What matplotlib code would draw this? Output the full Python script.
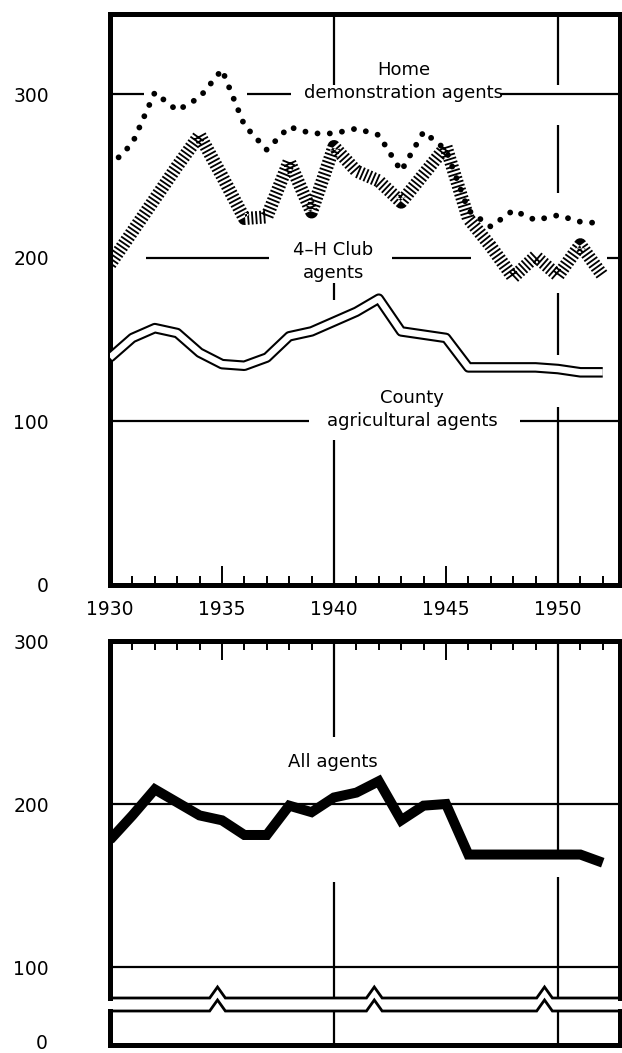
import matplotlib
matplotlib.use("Agg")
import matplotlib.pyplot as plt
import matplotlib.patheffects as pe
import matplotlib.transforms as mtransforms
from matplotlib.ticker import FixedLocator, MultipleLocator

# Yearly figures, 1930-1952
years = list(range(1930, 1953))
home_demo = [256, 270, 301, 290, 298, 315, 281, 266, 280, 276, 276, 279,
             275, 253, 277, 266, 229, 219, 229, 223, 226, 222, 221]
club_4h = [196, 216, 236, 256, 275, 250, 224, 225, 259, 228, 268, 253,
           247, 234, 251, 268, 224, 207, 188, 201, 189, 208, 189]
county = [139, 151, 157, 154, 142, 135, 134, 139, 152, 155, 161, 167,
          175, 155, 153, 151, 133, 133, 133, 133, 132, 130, 130]
all_agents = [178, 193, 209, 201, 193, 190, 181, 181, 199, 195, 204, 207,
              214, 190, 199, 200, 169, 169, 169, 169, 169, 169, 164]

year_labels = [1930, 1935, 1940, 1945, 1950]
top_yticks = [0, 100, 200, 300]
bottom_yticks = [100, 200, 300]

W, H = 622, 1053
XMIN, XMAX = 1930, 1952.77
FONT = "DejaVu Sans"
plt.rcParams["font.family"] = FONT

fig = plt.figure(figsize=(W / 100, H / 100), dpi=100)
fig.patch.set_facecolor("white")


def axes_px(x0, y0, x1, y1):
    return fig.add_axes([x0 / W, 1 - y1 / H, (x1 - x0) / W, (y1 - y0) / H])


ax_top = axes_px(110, 14, 620, 585)
ax_bot = axes_px(110, 641, 620, 998)
ax_strip = axes_px(110, 1011, 620, 1045)

GRID_LW = 1.6
SPINE_LW = 3.6


def hgrid(ax, y, spans):
    for a, b in spans:
        ax.hlines(y, a, b, color="black", lw=GRID_LW, zorder=1)


def vgrid(ax, x, spans):
    for a, b in spans:
        ax.vlines(x, a, b, color="black", lw=GRID_LW, zorder=1)


# ---------------- upper panel: agents by type ----------------
ax = ax_top
ax.set_xlim(XMIN, XMAX)
ax.set_ylim(0, 349)
for s in ax.spines.values():
    s.set_linewidth(SPINE_LW)

hgrid(ax, 300, [(1930, 1931.5), (1936.1, 1938.1), (1947.4, XMAX)])
hgrid(ax, 200, [(1931.6, 1937.1), (1942.6, 1946.1), (1952.2, XMAX)])
hgrid(ax, 100, [(1930, 1938.9), (1948.3, XMAX)])
vgrid(ax, 1940, [(305.6, 349), (174.2, 184.6), (0, 88.6)])
vgrid(ax, 1950, [(305.6, 349), (239.6, 281.2), (140.6, 178.5), (0, 108.8)])

# County agricultural agents: double line
ax.plot(years, county, color="white", lw=4.6, solid_joinstyle="round",
        solid_capstyle="butt", zorder=3,
        path_effects=[pe.Stroke(linewidth=7.6, foreground="black"), pe.Normal()])
# 4-H Club agents: hatched band
ax.plot(years, club_4h, color="black", lw=9.4, linestyle=(0, (0.14, 0.17)),
        dash_capstyle="butt", solid_joinstyle="miter", zorder=3)
# Home demonstration agents: dotted
ax.plot(years, home_demo, color="black", lw=4.2, linestyle=(0, (0.01, 2.1)),
        dash_capstyle="round", zorder=4)

ax.xaxis.set_major_locator(FixedLocator(year_labels))
ax.xaxis.set_minor_locator(MultipleLocator(1))
ax.tick_params(axis="x", which="major", direction="in", length=14, width=1.4,
               pad=11, labelsize=13.5, top=False)
ax.tick_params(axis="x", which="minor", direction="in", length=6.5, width=1.4,
               top=False)
ax.set_yticks(top_yticks)
ax.tick_params(axis="y", length=0, pad=44, labelsize=13.5)

lab = dict(ha="center", va="center", fontsize=13, color="black", zorder=5)
ax.text(1943.1, 314.8, "Home", **lab)
ax.text(1943.1, 300.7, "demonstration agents", **lab)
ax.text(1939.96, 204.8, "4\u2013H Club", **lab)
ax.text(1939.96, 190.7, "agents", **lab)
ax.text(1943.5, 114.3, "County", **lab)
ax.text(1943.5, 100.2, "agricultural agents", **lab)

# ---------------- lower panel: all agents ----------------
ax = ax_bot
ax.set_xlim(XMIN, XMAX)
ax.set_ylim(81, 300)
for name, s in ax.spines.items():
    s.set_linewidth(SPINE_LW)
ax.spines["bottom"].set_visible(False)

hgrid(ax, 200, [(1930, XMAX)])
hgrid(ax, 100, [(1930, XMAX)])
vgrid(ax, 1940, [(241, 300), (81, 152)])
vgrid(ax, 1950, [(172, 300), (81, 155)])

ax.plot(years, all_agents, color="black", lw=7.2, solid_joinstyle="miter",
        solid_capstyle="butt", zorder=3)
ax.text(1939.96, 225.8, "All agents", **lab)

ax.xaxis.tick_top()
ax.xaxis.set_major_locator(FixedLocator(year_labels))
ax.xaxis.set_minor_locator(MultipleLocator(1))
ax.tick_params(axis="x", which="major", direction="in", length=14, width=1.4,
               labeltop=False, labelbottom=False, bottom=False)
ax.tick_params(axis="x", which="minor", direction="in", length=6.5, width=1.4,
               bottom=False)
ax.set_yticks(bottom_yticks)
ax.tick_params(axis="y", length=0, pad=44, labelsize=13.5)

# broken-axis strip near zero
ax_s = ax_strip
ax_s.set_xlim(XMIN, XMAX)
ax_s.set_ylim(0, 1)
ax_s.set_xticks([])
ax_s.set_yticks([])
for name, s in ax_s.spines.items():
    s.set_linewidth(SPINE_LW)
ax_s.spines["top"].set_visible(False)
ax_s.vlines([1940, 1950], 0, 1, color="black", lw=GRID_LW, zorder=1)

breaks = [1934.8, 1941.8, 1949.4]


def zigzag(axis, ybase, height, lw):
    xs, ys = [XMIN], [ybase]
    for b in breaks:
        xs += [b - 0.35, b, b + 0.35]
        ys += [ybase, ybase + height, ybase]
    xs.append(XMAX)
    ys.append(ybase)
    tr = mtransforms.blended_transform_factory(axis.transData, axis.transAxes)
    axis.plot(xs, ys, color="black", lw=lw, transform=tr, clip_on=False,
              solid_joinstyle="miter", zorder=6)


zigzag(ax_bot, 0, 11 / 357, 2.0)
zigzag(ax_s, 1, 11 / 34, 2.0)

fig.text(48 / W, 1 - 1049 / H, "0", ha="right", va="baseline", fontsize=13.5)

fig.savefig("out.png", dpi=100, facecolor="white")
